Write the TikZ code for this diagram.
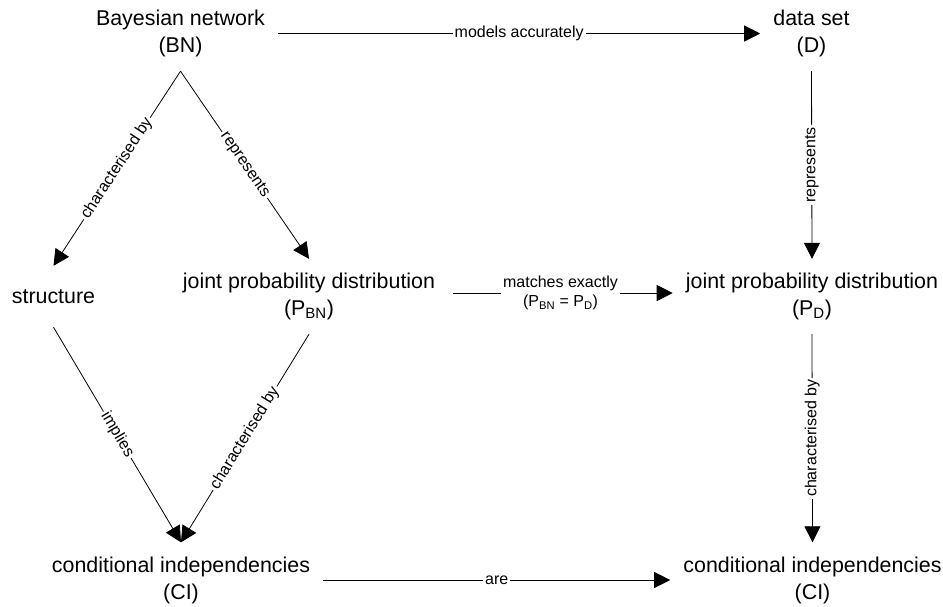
\documentclass[tikz,border=0pt]{standalone}
\usepackage{fontspec}
\setmainfont{Liberation Sans}
\usetikzlibrary{arrows.meta}
\begin{document}
\begin{tikzpicture}[x=1pt,y=-1pt,
  concept/.style={align=center, inner xsep=13pt, inner ysep=0pt,
    minimum height=75pt, font=\fontsize{21.4}{27}\selectfont},
  single/.style={concept, minimum height=61pt},
  rel/.style={draw=black, line width=0.8pt,
    -{Triangle[length=16pt,width=16pt]}},
  lbl/.style={fill=white, inner xsep=2pt, inner ysep=1pt,
    font=\fontsize{16}{19.5}\selectfont, align=center}
]
\useasboundingbox (0,0) rectangle (943,606);

% concepts
\node[concept] (bn)  at (180.5,33.5) {Bayesian network\\(BN)};
\node[concept] (ds)  at (811.5,33.5) {data set\\(D)};
\node[single]  (st)  at (53.5,296.5) {structure};
\node[concept] (pbn) at (309,296.5)  {joint probability distribution\\(P\textsubscript{BN})};
\node[concept] (pd)  at (812,296.5)  {joint probability distribution\\(P\textsubscript{D})};
\node[concept] (cil) at (181,580)    {conditional independencies\\(CI)};
\node[concept] (cir) at (812.5,580)  {conditional independencies\\(CI)};

% relations
\draw[rel] (bn.east) -- node[lbl]{models accurately} (ds.west);
\draw[rel] (bn.south) -- node[lbl, sloped]{characterised by} (st.north);
\draw[rel] (bn.south) -- node[lbl, sloped]{represents} (pbn.north);
\draw[rel] (ds.south) -- node[lbl, rotate=90]{represents} (pd.north);
\draw[rel, shorten <=5pt] ([yshift=3.5pt]pbn.east) --
  node[lbl]{matches exactly\\(P\textsubscript{BN} = P\textsubscript{D})} ([yshift=3.5pt]pd.west);
\draw[rel] (st.south) -- node[lbl, sloped]{implies} (cil.north);
\draw[rel] (pbn.south) -- node[lbl, sloped]{characterised by} (cil.north);
\draw[rel] (pd.south) -- node[lbl, rotate=90]{characterised by} (cir.north);
\draw[rel] (cil.east) -- node[lbl]{are} (cir.west);
\end{tikzpicture}
\end{document}
